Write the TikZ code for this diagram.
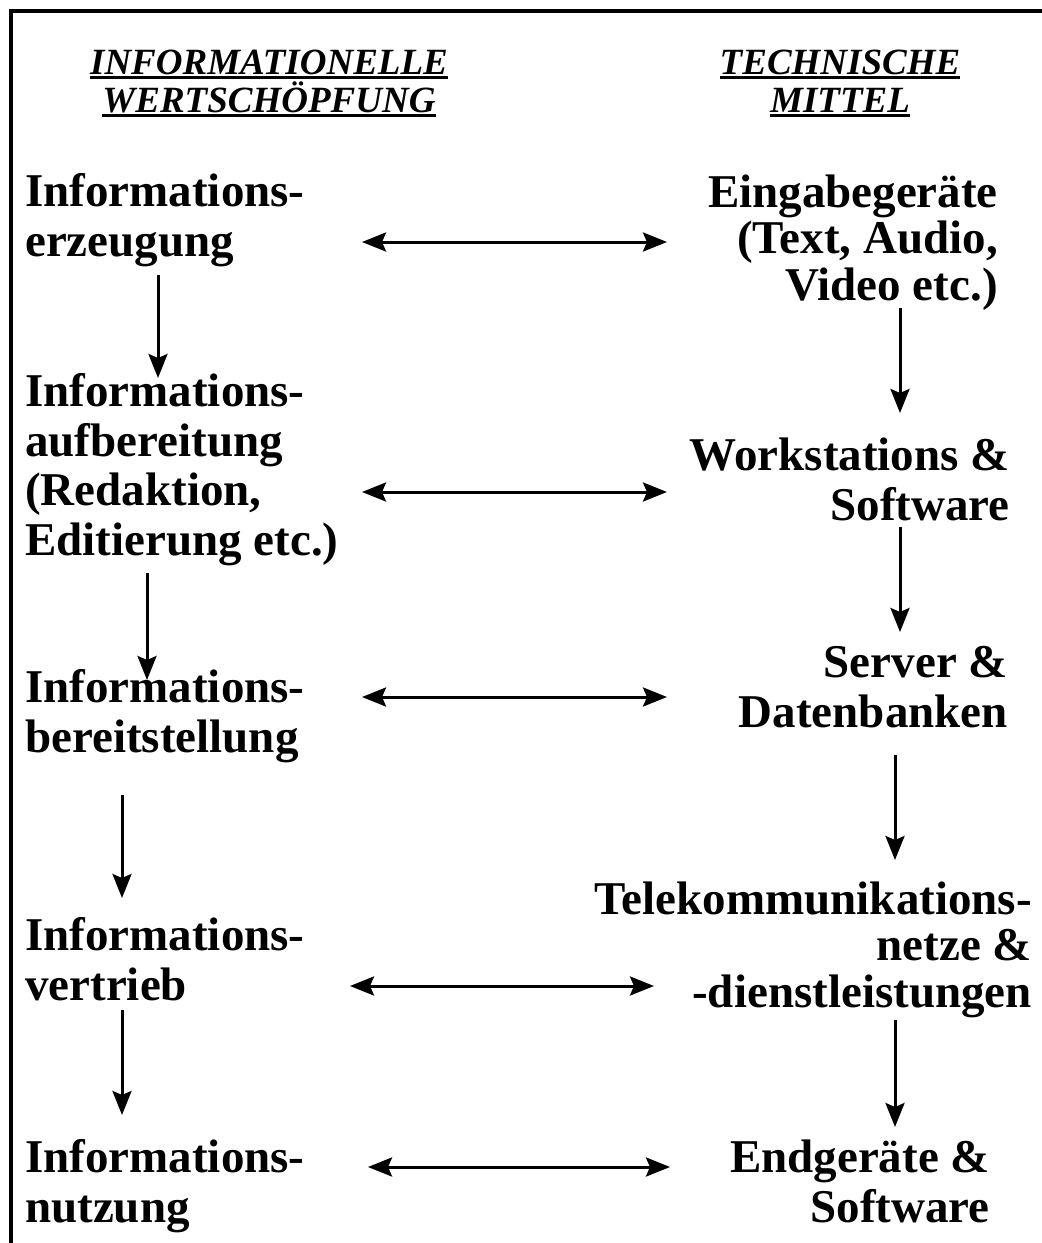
\documentclass[tikz,border=0pt]{standalone}
\usepackage{fontspec}
\setmainfont{Liberation Serif}
\usetikzlibrary{arrows.meta,positioning}

\newcommand{\bodyfont}{\fontsize{47}{49.5}\selectfont\bfseries}
\newcommand{\tightfont}{\fontsize{47}{46.5}\selectfont\bfseries}
\newcommand{\headfont}{\fontsize{37}{38}\selectfont\bfseries\itshape}
\newcommand{\ulhead}[1]{\setbox0\hbox{#1}\rlap{\rule[-5pt]{\wd0}{3pt}}\box0}

\begin{document}
\begin{tikzpicture}
			[x=1pt,y=-1pt,>={Stealth[length=24pt,width=19pt,inset=4pt]},
			lbox/.style={anchor=base west,align=left,inner sep=0pt,font=\bodyfont},
			rbox/.style={anchor=base east,align=right,inner sep=0pt,font=\bodyfont},
			head/.style={anchor=base,align=center,inner sep=0pt,font=\headfont},
			flow/.style={->,line width=3pt},
			link/.style={<->,line width=3pt}]
			
			\useasboundingbox (0,0) rectangle (1042,1243);
			\draw[line width=3.5pt] (11,1243) -- (11,11) -- (1042,11);
			
			% headings (base = last line)
			\node[head] (hwert) at (269,112) {\ulhead{INFORMATIONELLE}\\\ulhead{WERTSCHÖPFUNG}};
			\node[head] (htech) at (840,112) {\ulhead{TECHNISCHE}\\\ulhead{MITTEL}};
			
			% left column
			\node[lbox] (erz) at (25,256)  {Informations-\\erzeugung};
			\node[lbox] (auf) at (25,555)  {Informations-\\aufbereitung\\(Redaktion,\\Editierung etc.)};
			\node[lbox] (ber) at (25,752)  {Informations-\\bereitstellung};
			\node[lbox] (ver) at (25,1000) {Informations-\\vertrieb};
			\node[lbox] (nut) at (25,1222) {Informations-\\nutzung};
			
			% right column
			\node[rbox,font=\tightfont] (ein) at (998,300)  {Eingabegeräte\\(Text, Audio,\\Video etc.)};
			\node[rbox] (wor) at (1010,520)  {Workstations \&\\Software};
			\node[rbox] (ser) at (1008,727)  {Server \&\\Datenbanken};
			\node[rbox,font=\tightfont] (tel) at (1032,1007) {Telekommunikations-\\netze \&\\-dienstleistungen};
			\node[rbox] (end) at (990,1222)  {Endgeräte \&\\Software};
			
			% ends of the arrows
			\coordinate (erzout) at (158,275);  \coordinate (aufin) at (158,378);
			\coordinate (aufout) at (147,573);  \coordinate (berin) at (147,680);
			\coordinate (berout) at (122,795);  \coordinate (verin) at (122,898);
			\coordinate (verout) at (122,1010); \coordinate (nutin) at (122,1115);
			\coordinate (einout) at (900,308);  \coordinate (worin) at (900,413);
			\coordinate (worout) at (900,527);  \coordinate (serin) at (900,632);
			\coordinate (serout) at (895,755);  \coordinate (telin) at (895,860);
			\coordinate (telout) at (895,1020); \coordinate (endin) at (895,1127);
			
			\coordinate (erzr) at (362,242);  \coordinate (einl) at (667,242);
			\coordinate (aufr) at (362,492);  \coordinate (worl) at (667,492);
			\coordinate (berr) at (362,697);  \coordinate (serl) at (667,697);
			\coordinate (verr) at (350,986);  \coordinate (tell) at (654,986);
			\coordinate (nutr) at (368,1167); \coordinate (endl) at (670,1167);
			
			\draw[flow] (erzout) -- (aufin);
			\draw[flow] (aufout) -- (berin);
			\draw[flow] (berout) -- (verin);
			\draw[flow] (verout) -- (nutin);
			\draw[flow] (einout) -- (worin);
			\draw[flow] (worout) -- (serin);
			\draw[flow] (serout) -- (telin);
			\draw[flow] (telout) -- (endin);
			
			\draw[link] (erzr) -- (einl);
			\draw[link] (aufr) -- (worl);
			\draw[link] (berr) -- (serl);
			\draw[link] (verr) -- (tell);
			\draw[link] (nutr) -- (endl);
\end{tikzpicture}
\end{document}
